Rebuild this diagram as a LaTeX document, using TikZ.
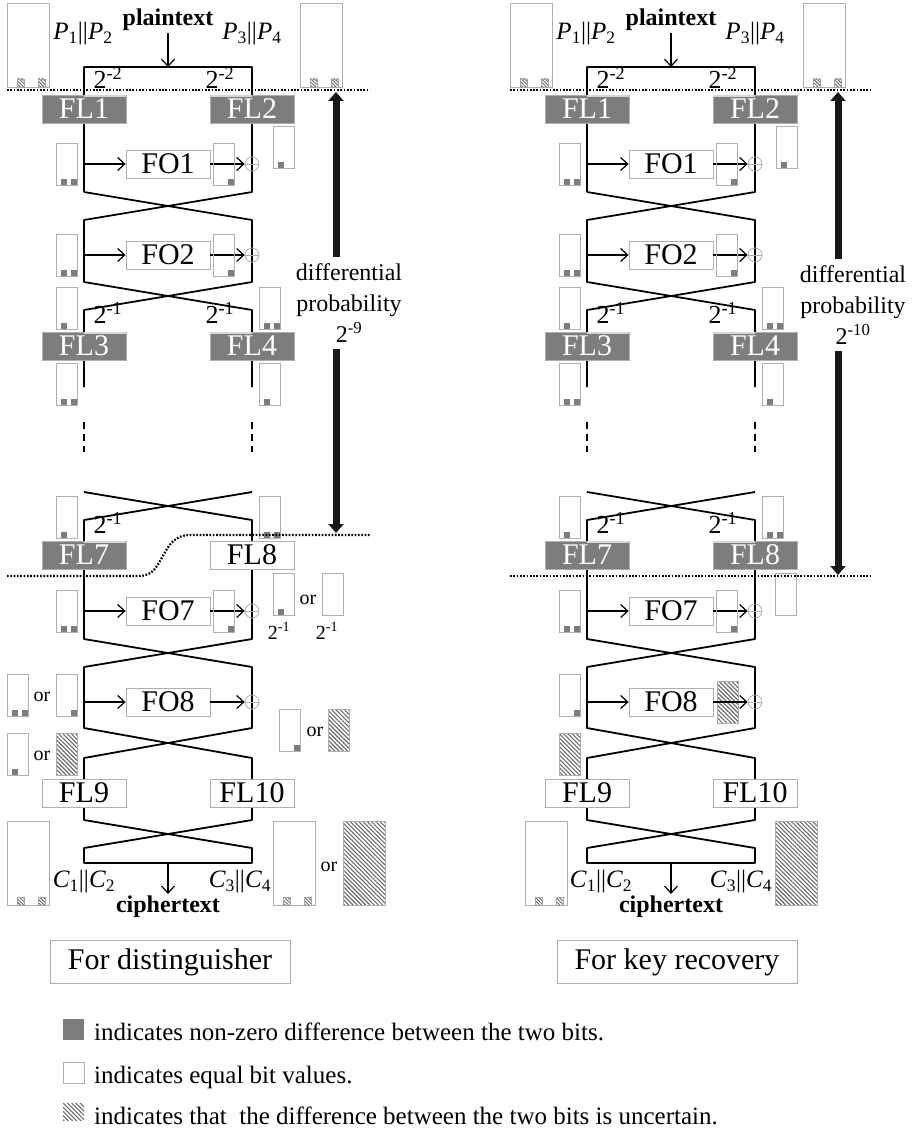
\documentclass[tikz,border=0pt]{standalone}
\usepackage{fontspec}
\setmainfont{Liberation Serif}
\usetikzlibrary{arrows.meta, positioning, calc, patterns.meta, backgrounds}
\definecolor{DiffGray}{RGB}{125, 125, 125}
\definecolor{EdgeGray}{RGB}{175, 175, 175}
\definecolor{HatchGray}{RGB}{105, 105, 105}
\definecolor{StripGray}{RGB}{215, 215, 215}

% small bit box: x, top y, 0 none / 1 first / 2 second / 3 both / 4 hatched
\newcommand{\bitbox}[3]{%
  \ifnum#3=4 \fill[hatch] (#1,#2) rectangle ++(21,42);\fi
  \draw[bitframe] (#1,#2) rectangle ++(21,42);
  \ifodd#3 \fill[DiffGray] (#1+5,#2+36) rectangle ++(6,6);\fi
  \ifnum#3>1 \ifnum#3<4 \fill[DiffGray] (#1+15,#2+36) rectangle ++(6,6);\fi\fi}
% big block: x, top y, 0 two uncertain bits / 1 all uncertain
\newcommand{\blockbox}[3]{%
  \ifnum#3=1 \fill[hatch] (#1,#2) rectangle ++(42,84);\fi
  \draw[bitframe] (#1,#2) rectangle ++(42,84);
  \ifnum#3=0 \filldraw[tinyhatch] (#1+10,#2+76) rectangle ++(7,8);
    \filldraw[tinyhatch] (#1+31,#2+76) rectangle ++(7,8);\fi}

\begin{document}
\begin{tikzpicture}[x=1pt, y=-1pt,
    rail/.style={line width=1.8pt, line join=round},
    gapline/.style={line width=1.4pt, dash pattern=on 7pt off 5pt},
    arr/.style={-{Straight Barb[length=7pt, width=13pt]}, line width=1.2pt},
    bigarr/.style={-{Triangle[length=9pt, width=15pt]}, line width=7pt, black!90},
    dotline/.style={line width=2.2pt, dash pattern=on 1.7pt off 1.6pt},
    fldark/.style={draw=EdgeGray, line width=0.9pt, fill=DiffGray, text=white, minimum width=84pt, minimum height=28pt, inner sep=0pt, font=\fontsize{30}{30}\selectfont},
    fllight/.style={fldark, fill=white, text=black},
    fobox/.style={fllight},
    strip/.style={StripGray, line width=2pt},
    xor/.style={circle, draw=EdgeGray, line width=0.8pt, minimum size=14pt, inner sep=0pt},
    bitframe/.style={draw=EdgeGray, line width=0.9pt},
    hatch/.style={pattern={Lines[angle=-45, distance=3pt, line width=1.1pt]}, pattern color=HatchGray},
    tinyhatch/.style={pattern={Lines[angle=-45, distance=2.4pt, line width=0.9pt]}, pattern color=HatchGray, draw=HatchGray!60, line width=0.5pt},
    lbl/.style={inner sep=0pt, font=\fontsize{26}{26}\selectfont},
    io/.style={inner sep=2pt, font=\fontsize{25}{25}\selectfont},
    small/.style={inner sep=0pt, font=\fontsize{20}{20}\selectfont},
    prob/.style={align=center, inner sep=6pt, font=\fontsize{24}{31}\selectfont},
    tagbox/.style={draw=EdgeGray, line width=0.9pt, minimum width=240pt, minimum height=43pt, font=\fontsize{30}{30}\selectfont},
    keytext/.style={inner sep=0pt, anchor=base west, font=\fontsize{25}{25}\selectfont}
  ]
  \useasboundingbox (0,0) rectangle (914,1129);

  % right diagram: uncertain word under the FO8 arrow
  \begin{scope}[on background layer, xshift=503pt]
    \bitbox{214}{681}{4}
  \end{scope}

  % the two Feistel ladders
  \foreach \dx/\pre in {0/L-, 503/R-}{
  \begin{scope}[xshift=\dx pt, name prefix=\pre]
    \blockbox{7}{3}{0}
    \blockbox{300}{3}{0}
    \draw[rail] (84,192) -- (84,67) -- (252,67) -- (252,192) -- (84,220) -- (84,282) -- (252,310) -- (252,387);
    \draw[rail] (84,192) -- (252,220) -- (252,282) -- (84,310) -- (84,387);
    \draw[gapline] (84,422) -- (84,452);
    \draw[gapline] (252,422) -- (252,452);
    \draw[rail] (84,492) -- (252,520) -- (252,639) -- (84,667) -- (84,728) -- (252,758) -- (252,820) -- (84,848) -- (84,863)
      -- (252,863) -- (252,848) -- (84,820) -- (84,758) -- (252,728) -- (252,667) -- (84,639) -- (84,520) -- (252,492);

    \foreach \n/\y in {1/164, 2/255, 7/611, 8/702}{
      \node[fobox] (fo\n) at (168,\y) {FO\n};
      \node[xor] (x\n) at (252,\y) {};
      \coordinate (in\n) at (84,\y);
      \draw[EdgeGray, line width=0.8pt] (x\n.west) -- (x\n.east);
      \draw[arr] (in\n) -- (fo\n);
      \draw[arr] (fo\n) -- (x\n);
    }
    \foreach \n/\x/\y in {1/84/109, 2/252/109, 3/84/346, 4/252/346, 7/84/555}
      \node[fldark] (fl\n) at (\x,\y) {FL\n};
    \foreach \n/\a/\b in {1/north/north east, 2/north west/north, 3/north/north east, 4/north west/north, 7/north/north east}
      \draw[strip] ([yshift=-1.5pt]fl\n.\a) -- ([yshift=-1.5pt]fl\n.\b);
    \node[fllight] (fl9) at (84,793) {FL9};
    \node[fllight] (fl10) at (252,793) {FL10};

    \bitbox{56}{143}{3} \bitbox{213}{143}{2} \bitbox{273}{126}{1}
    \bitbox{56}{234}{3} \bitbox{213}{234}{2}
    \bitbox{56}{287}{1} \bitbox{259}{287}{3}
    \bitbox{56}{363}{3} \bitbox{259}{363}{1}
    \bitbox{56}{496}{1} \bitbox{259}{496}{3}
    \bitbox{56}{590}{3} \bitbox{213}{590}{2}

    \node[io, font=\fontsize{24}{24}\selectfont\bfseries] (pt) at (168,20) {plaintext};
    \coordinate (ptin) at (168,67);
    \draw[arr] (pt) -- (ptin);
    \node[io] (p12) at (83,34) {\textit{P}\textsubscript{1}||\textit{P}\textsubscript{2}};
    \node[io] (p34) at (252,34) {\textit{P}\textsubscript{3}||\textit{P}\textsubscript{4}};
    \coordinate (ctout) at (168,863);
    \node[io, font=\fontsize{24}{24}\selectfont\bfseries] (ct) at (168,907) {ciphertext};
    \draw[arr] (ctout) -- (ct);

    \node[lbl] (pa) at (108,78) {2\textsuperscript{-2}};
    \node[lbl] (pb) at (220,78) {2\textsuperscript{-2}};
    \node[lbl] (pc) at (108,313) {2\textsuperscript{-1}};
    \node[lbl] (pd) at (220,313) {2\textsuperscript{-1}};
    \node[lbl] (pe) at (108,523) {2\textsuperscript{-1}};
  \end{scope}
  }

  % for distinguisher
  \begin{scope}[name prefix=L-]
    \node[fllight] (fl8) at (252,555) {FL8};
    \bitbox{273}{573}{1}
    \node[small] (or1) at (308,600) {or};
    \bitbox{322}{573}{0}
    \node[small] (q1) at (279,631) {2\textsuperscript{-1}};
    \node[small] (q2) at (327,631) {2\textsuperscript{-1}};
    \bitbox{7}{674}{3} \node[small] (or2) at (42,697) {or}; \bitbox{56}{674}{2}
    \bitbox{7}{733}{1} \node[small] (or3) at (42,756) {or}; \bitbox{56}{733}{4}
    \bitbox{279}{709}{2} \node[small] (or4) at (315,732) {or}; \bitbox{328}{709}{4}
    \blockbox{7}{821}{0}
    \blockbox{273}{821}{0}
    \node[small] (or5) at (329,867) {or};
    \blockbox{343}{821}{1}
    \node[io] (c12) at (84,882) {\textit{C}\textsubscript{1}||\textit{C}\textsubscript{2}};
    \node[io] (c34) at (240,882) {\textit{C}\textsubscript{3}||\textit{C}\textsubscript{4}};
    \draw[dotline] (7,90) -- (370,90);
    \draw[dotline] (7,576) -- (140,576) .. controls (165,576) and (160,535) .. (190,535) -- (370,535);
    \coordinate (dptop) at (336,92);
    \coordinate (dpbot) at (336,533);
    \node[prob] (dp) at (349,303) {differential\\probability\\2\textsuperscript{-9}};
    \draw[bigarr] (dp.north -| dptop) -- (dptop);
    \draw[bigarr] (dp.south -| dpbot) -- (dpbot);
    \node[tagbox] (use) at (170,962) {For distinguisher};
  \end{scope}

  % for key recovery
  \begin{scope}[xshift=503pt, name prefix=R-]
    \node[fldark] (fl8) at (252,555) {FL8};
    \draw[strip] ([yshift=-1.5pt]fl8.north west) -- ([yshift=-1.5pt]fl8.north);
    \node[lbl] (pf) at (220,523) {2\textsuperscript{-1}};
    \bitbox{272}{573}{0}
    \bitbox{56}{674}{2}
    \bitbox{56}{733}{4}
    \blockbox{22}{821}{0}
    \blockbox{272}{821}{1}
    \node[io] (c12) at (98,882) {\textit{C}\textsubscript{1}||\textit{C}\textsubscript{2}};
    \node[io] (c34) at (238,882) {\textit{C}\textsubscript{3}||\textit{C}\textsubscript{4}};
    \draw[dotline] (7,90) -- (369,90);
    \draw[dotline] (7,576) -- (369,576);
    \coordinate (dptop) at (335,92);
    \coordinate (dpbot) at (335,575);
    \node[prob] (dp) at (350,305) {differential\\probability\\2\textsuperscript{-10}};
    \draw[bigarr] (dp.north -| dptop) -- (dptop);
    \draw[bigarr] (dp.south -| dpbot) -- (dpbot);
    \node[tagbox] (use) at (174,962) {For key recovery};
  \end{scope}

  % legend
  \fill[DiffGray] (63,1019) rectangle (84,1040);
  \node[keytext] (key1) at (94,1040) {indicates non-zero difference between the two bits.};
  \draw[bitframe] (63,1062) rectangle (84,1083);
  \node[keytext] (key2) at (94,1083) {indicates equal bit values.};
  \fill[hatch] (63,1103) rectangle (84,1120);
  \node[keytext] (key3) at (94,1124) {indicates that~ the difference between the two bits is uncertain.};
\end{tikzpicture}
\end{document}
